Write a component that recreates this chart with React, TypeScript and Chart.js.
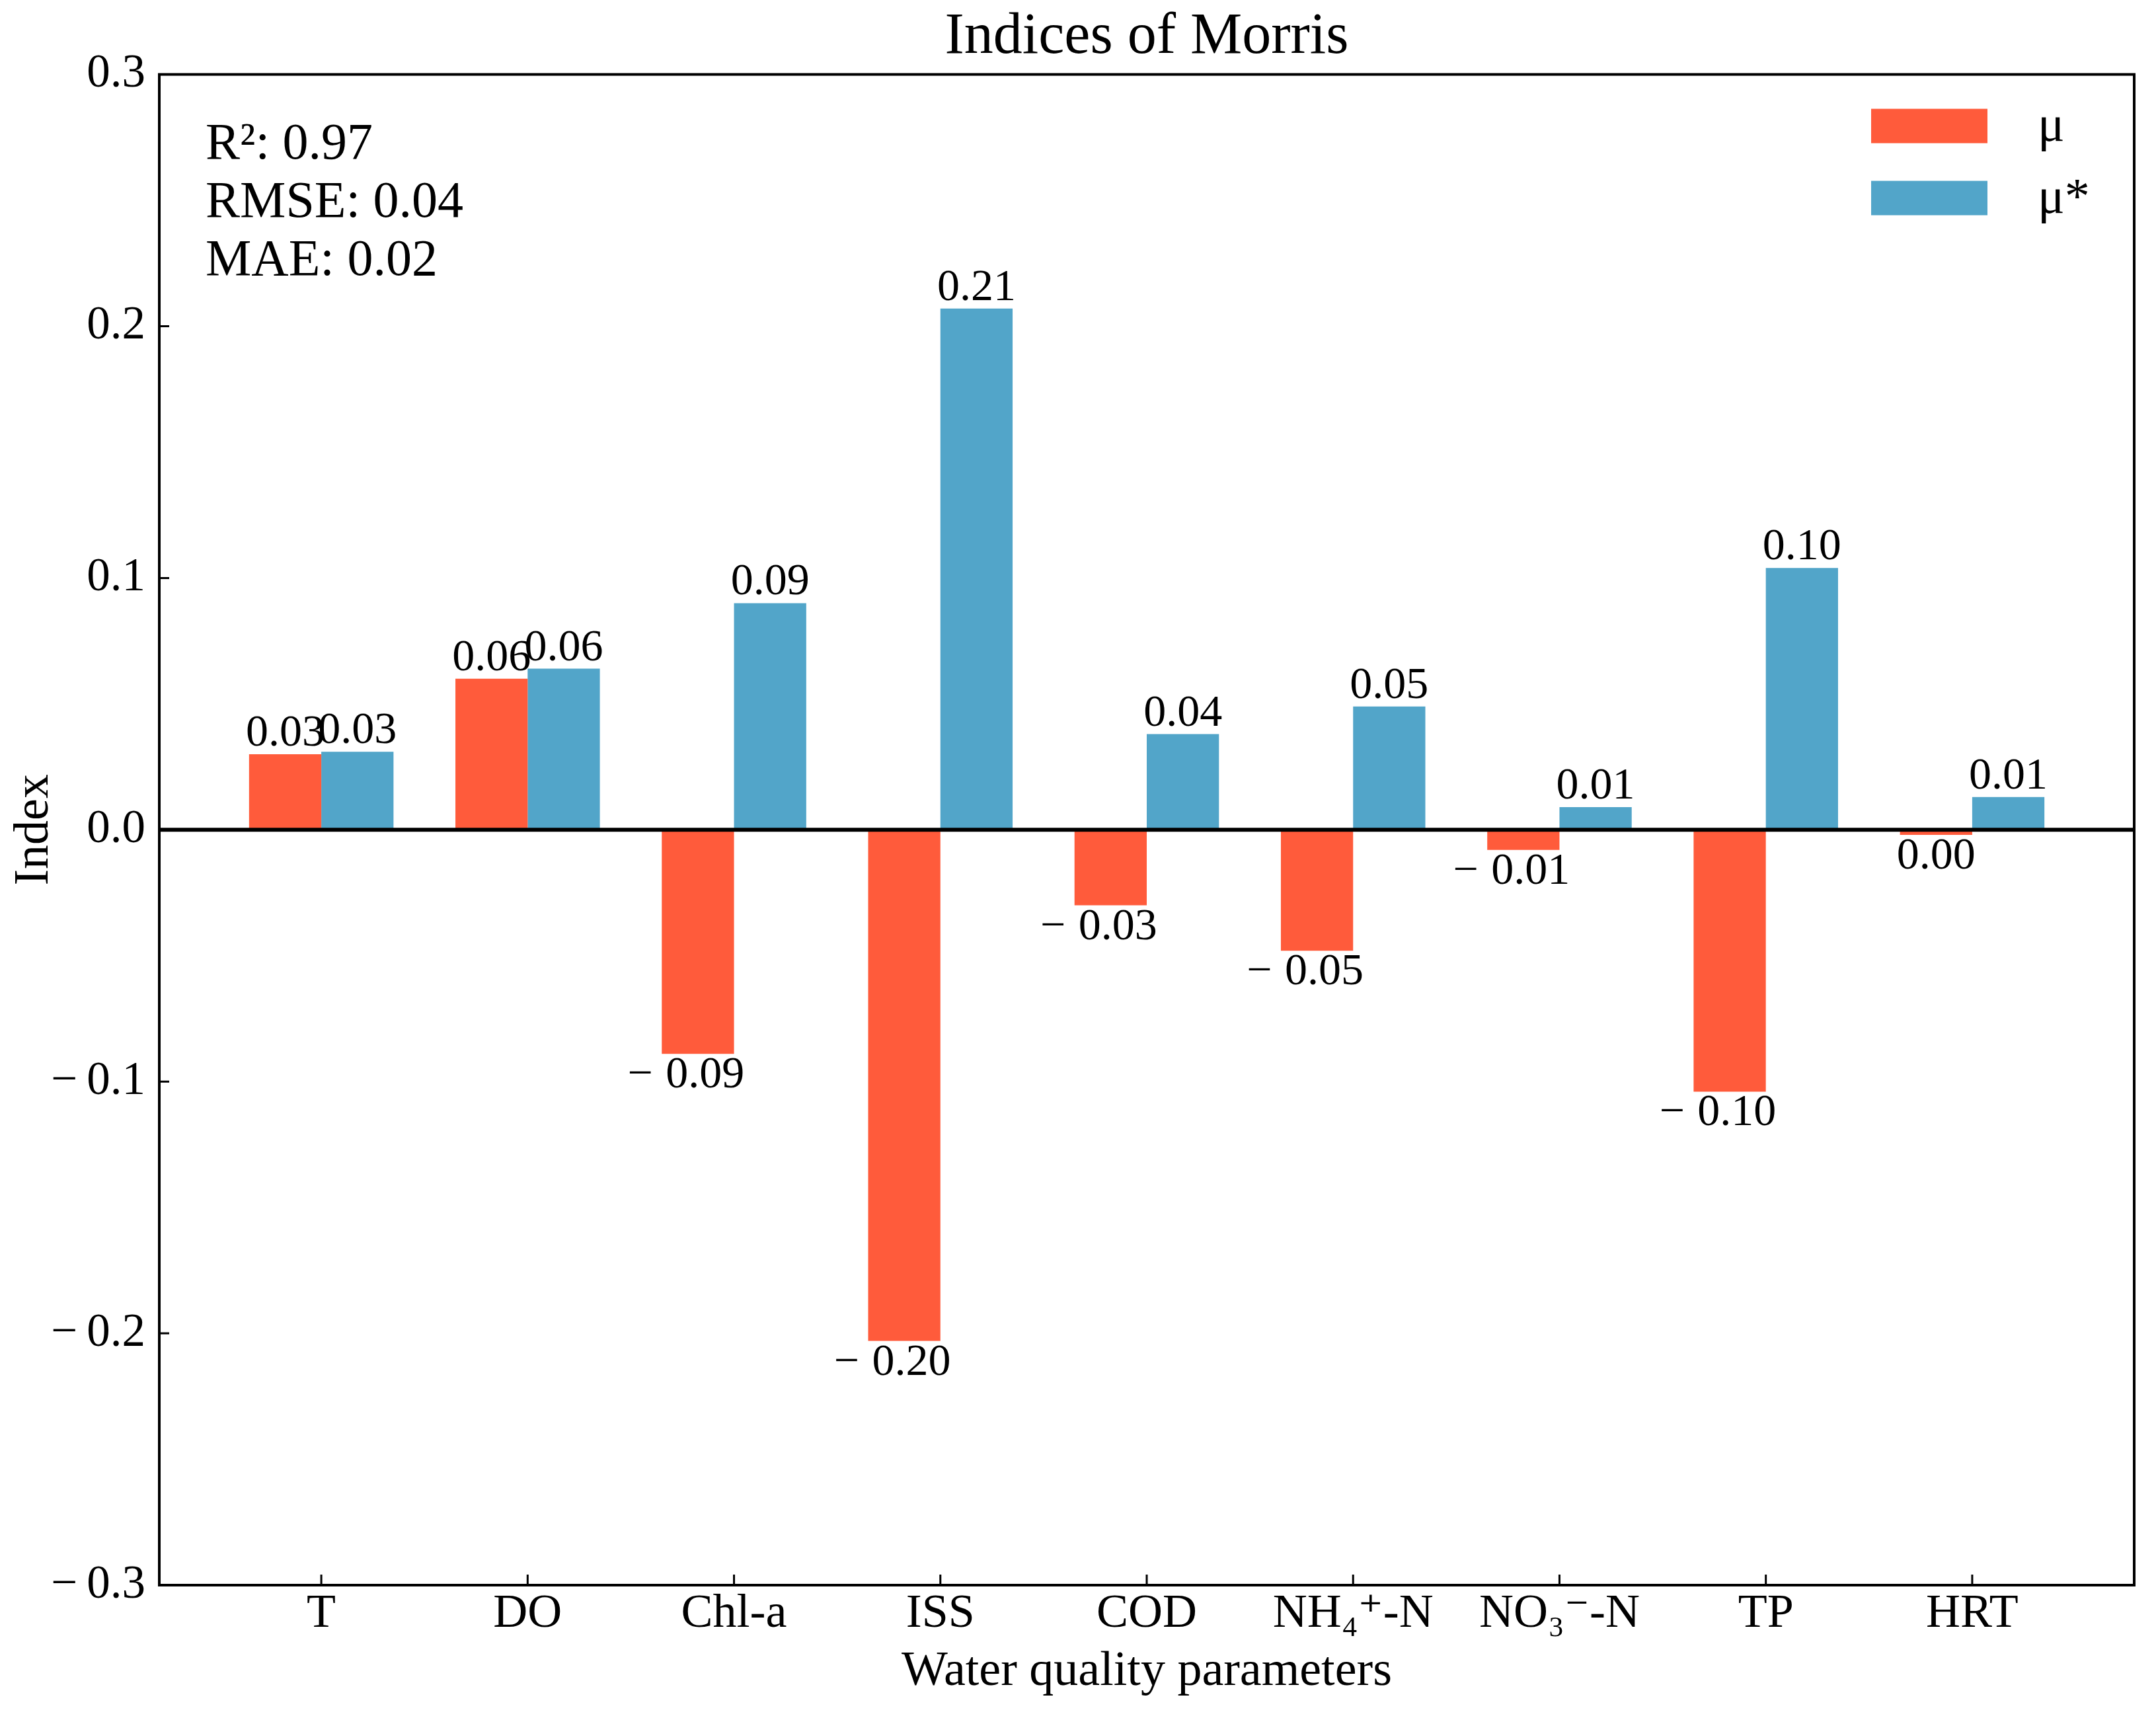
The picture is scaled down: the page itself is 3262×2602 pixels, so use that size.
import React, { useEffect, useRef } from 'react';
import { Chart, registerables } from 'chart.js';

Chart.register(...registerables);

const FONT = "'Liberation Serif', 'Times New Roman', 'DejaVu Serif', serif";
Chart.defaults.font.family = FONT;
Chart.defaults.color = '#000';

// data
const categories = ['T', 'DO', 'Chl-a', 'ISS', 'COD', 'NH₄⁺-N', 'NO₃⁻-N', 'TP', 'HRT'];
const muValues = [0.03, 0.06, -0.089, -0.203, -0.03, -0.048, -0.008, -0.104, -0.002];
const muStarValues = [0.031, 0.064, 0.09, 0.207, 0.038, 0.049, 0.009, 0.104, 0.013];
const seriesNames = ['μ', 'μ*'];
const seriesColors = ['#FF5B3B', '#52A5C9'];
const yTicks = [-0.3, -0.2, -0.1, 0, 0.1, 0.2, 0.3];
const statLines = ['R²: 0.97', 'RMSE: 0.04', 'MAE: 0.02'];

// matplotlib-style minus, a little wider than the plain glyph
const fmtValue = (v: number) => {
  const s = v.toFixed(2);
  if (Number(s) === 0) return '0.00';
  return s.replace('-', '−\u2009\u200A');
};

const fmtTick = (v: number) => {
  if (Math.abs(v) < 1e-9) return '0.0';
  return v.toFixed(1).replace('-', '−\u2009');
};

const decorPlugin = {
  id: 'decor',
  afterDatasetsDraw(chart: any) {
    const { ctx, chartArea: a, scales } = chart;
    const xs = scales.x;
    const ys = scales.y;
    ctx.save();
    ctx.strokeStyle = '#000';

    // zero line
    const y0 = ys.getPixelForValue(0);
    ctx.lineWidth = 6;
    ctx.beginPath();
    ctx.moveTo(a.left, y0);
    ctx.lineTo(a.right, y0);
    ctx.stroke();

    // value labels on bars
    ctx.fillStyle = '#000';
    ctx.font = `68px ${FONT}`;
    ctx.textAlign = 'center';
    ctx.textBaseline = 'alphabetic';
    chart.data.datasets.forEach((ds: any, di: number) => {
      const meta = chart.getDatasetMeta(di);
      meta.data.forEach((bar: any, i: number) => {
        const v = ds.data[i].y;
        const text = fmtValue(v);
        const p = bar.getProps(['x', 'y'], true);
        if (v >= 0) ctx.fillText(text, p.x, p.y - 13);
        else ctx.fillText(text, text.startsWith('−') ? p.x - 18 : p.x, p.y + 51);
      });
    });

    // frame
    ctx.lineWidth = 4;
    ctx.strokeRect(a.left, a.top, a.right - a.left, a.bottom - a.top);

    // inward ticks
    ctx.lineWidth = 3;
    ctx.beginPath();
    ys.ticks.forEach((t: any) => {
      const py = ys.getPixelForValue(t.value);
      ctx.moveTo(a.left, py);
      ctx.lineTo(a.left + 15, py);
    });
    xs.ticks.forEach((t: any) => {
      const px = xs.getPixelForValue(t.value);
      ctx.moveTo(px, a.bottom);
      ctx.lineTo(px, a.bottom - 16);
    });
    ctx.stroke();
    ctx.restore();
  },
  afterDraw(chart: any) {
    const { ctx, chartArea: a } = chart;
    ctx.save();
    ctx.fillStyle = '#000';

    // stats text
    ctx.font = `78px ${FONT}`;
    ctx.textAlign = 'left';
    ctx.textBaseline = 'alphabetic';
    statLines.forEach((s, i) => {
      ctx.fillText(s, a.left + 70, a.top + 127 + i * 88);
    });

    // legend
    chart.data.datasets.forEach((ds: any, i: number) => {
      const cy = a.top + 78 + i * 109;
      ctx.fillStyle = ds.backgroundColor;
      ctx.fillRect(a.right - 398, cy - 26, 176, 52);
      ctx.fillStyle = '#000';
      ctx.font = `76px ${FONT}`;
      ctx.textBaseline = 'middle';
      ctx.fillText(ds.label, a.right - 146, cy + 2);
    });
    ctx.restore();
  },
};

const App: React.FC = () => {
  const canvasRef = useRef<HTMLCanvasElement | null>(null);
  const chartRef = useRef<Chart | null>(null);

  useEffect(() => {
    document.body.style.margin = '0';
    const ctx = canvasRef.current?.getContext('2d');
    if (ctx) {
      chartRef.current = new Chart(ctx, {
        type: 'bar',
        data: {
          datasets: [muValues, muStarValues].map((vals, di) => ({
            label: seriesNames[di],
            data: vals.map((v, i) => ({ x: i, y: v })),
            backgroundColor: seriesColors[di],
            borderWidth: 0,
            categoryPercentage: 0.7,
            barPercentage: 1.0,
          })),
        },
        options: {
          animation: false,
          responsive: true,
          maintainAspectRatio: false,
          devicePixelRatio: 1,
          layout: { padding: { left: 0, right: 33, top: 0, bottom: 0 } },
          plugins: {
            legend: { display: false },
            tooltip: { enabled: false },
            title: {
              display: true,
              fullSize: false,
              text: 'Indices of Morris',
              color: '#000',
              font: { size: 88, weight: 'normal' },
              padding: { top: 4, bottom: 3 },
            },
          },
          scales: {
            x: {
              type: 'linear',
              min: -0.785,
              max: 8.785,
              offset: false,
              grid: { display: false, drawTicks: false, offset: false },
              border: { display: false },
              afterBuildTicks: (s: any) => {
                s.ticks = categories.map((_, i) => ({ value: i }));
              },
              ticks: {
                autoSkip: false,
                maxRotation: 0,
                padding: 1,
                font: { size: 72 },
                color: '#000',
                callback: (v: any) => categories[Math.round(Number(v))] ?? '',
              },
              title: {
                display: true,
                text: 'Water quality parameters',
                color: '#000',
                font: { size: 74 },
                padding: { top: 0, bottom: 28 },
              },
              afterFit: (s: any) => {
                s.height = 204;
              },
            },
            y: {
              type: 'linear',
              min: -0.3,
              max: 0.3,
              grid: { display: false, drawTicks: false },
              border: { display: false },
              afterBuildTicks: (s: any) => {
                s.ticks = yTicks.map((v) => ({ value: v }));
              },
              ticks: {
                padding: 21,
                font: { size: 71 },
                color: '#000',
                callback: (v: any) => fmtTick(Number(v)),
              },
              title: {
                display: true,
                text: 'Index',
                color: '#000',
                font: { size: 74 },
                padding: { top: 8, bottom: 0 },
              },
              afterFit: (s: any) => {
                s.width = 241;
              },
            },
          },
        },
        plugins: [decorPlugin],
      });
    }
    return () => {
      if (chartRef.current) chartRef.current.destroy();
    };
  }, []);

  return (
    <div style={{ width: '3262px', height: '2602px', background: '#fff' }}>
      <canvas ref={canvasRef}></canvas>
    </div>
  );
};

export default App;
